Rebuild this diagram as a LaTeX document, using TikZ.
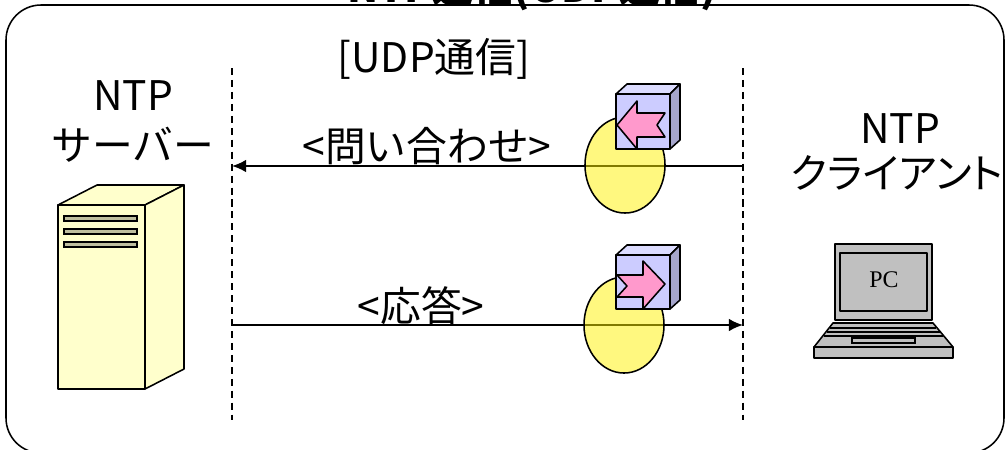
\documentclass[tikz,border=0pt]{standalone}
\usepackage{fontspec}
\setmainfont{Noto Sans CJK JP}
\newfontfamily\pcfont{Liberation Serif}
\usetikzlibrary{arrows.meta}

\definecolor{srvyellow}{HTML}{FFFFCC}
\definecolor{slotgray}{HTML}{BFBF9F}
\definecolor{boxfront}{HTML}{CCCCFF}
\definecolor{boxtop}{HTML}{DCDCFF}
\definecolor{boxside}{HTML}{A6A6CC}
\definecolor{pktpink}{HTML}{FF99CC}
\definecolor{pcgray}{HTML}{C0C0C0}

\tikzset{
  lbl/.style={anchor=base, inner sep=0pt, font=\fontsize{29}{34}\selectfont},
  outline/.style={line width=1.1pt, line join=round},
  lifeline/.style={line width=1pt, dash pattern=on 5pt off 3.5pt},
  msg/.style={line width=1.4pt, -{Latex[length=10pt,width=9pt]}},
}

\begin{document}
\begin{tikzpicture}[x=0.025cm, y=-0.025cm]

  \useasboundingbox (0,0) rectangle (1006,449);
  \clip (0,0) rectangle (1006,449);

  % Outer frame
  \draw[line width=1.1pt, rounded corners=0.875cm] (6,5) rectangle (1004,453);

  % Define points on the two lifelines
  \coordinate (srvTop) at (232,68);
  \coordinate (srvBot) at (232,420);
  \coordinate (cliTop) at (743,68);
  \coordinate (cliBot) at (743,420);
  \coordinate (qFrom) at (743,166);
  \coordinate (qTo) at (232,166);
  \coordinate (rFrom) at (232,325);
  \coordinate (rTo) at (743,325);

  % Draw the lifelines and messages
  \draw[lifeline] (srvTop) -- (srvBot);
  \draw[lifeline] (cliTop) -- (cliBot);
  \draw[msg] (qFrom) -- (qTo);
  \draw[msg] (rFrom) -- (rTo);

  % Labels
  \node[lbl] (title) at (532,2) {\bfseries NTP通信(UDP通信)};
  \node[lbl] (udp) at (434,72) {[UDP通信]};
  \node[lbl] (srvA) at (133,110) {NTP};
  \node[lbl] (srvB) at (133,160) {サーバー};
  \node[lbl] (cliA) at (900,143) {NTP};
  \node[lbl] (cliB) at (897,188) {\addfontfeature{RawFeature=+palt}クライアント};
  \node[lbl] (query) at (427,161) {<問い合わせ>};
  \node[lbl] (reply) at (421,321) {<応答>};

  % Server tower
  \filldraw[outline, fill=srvyellow] (58,205) -- (145,205) -- (145,389) -- (58,389) -- cycle;
  \filldraw[outline, fill=srvyellow] (58,205) -- (97,185) -- (184,185) -- (145,205) -- cycle;
  \filldraw[outline, fill=srvyellow] (145,205) -- (184,185) -- (184,369) -- (145,389) -- cycle;
  \foreach \y in {216,229,242}
    \filldraw[line width=0.9pt, fill=slotgray] (64,\y) rectangle (137,\y+5);

  % Packets (ellipse + box with arrow)
  \filldraw[outline, fill=yellow, fill opacity=0.5] (625,165) ellipse [x radius=1cm, y radius=1.2cm];
  \filldraw[outline, fill=yellow, fill opacity=0.5] (624,325) ellipse [x radius=1cm, y radius=1.2cm];

  \begin{scope}[shift={(616,94)}]
    \filldraw[outline, fill=boxfront] (0,0) rectangle (54,55);
    \filldraw[outline, fill=boxtop] (0,0) -- (11,-10) -- (64,-10) -- (54,0) -- cycle;
    \filldraw[outline, fill=boxside] (54,0) -- (64,-10) -- (64,46) -- (54,55) -- cycle;
    \filldraw[outline, fill=pktpink] (1,31) -- (21,7) -- (21,19) -- (49,19) -- (41,31)
      -- (49,43) -- (21,43) -- (21,55) -- cycle;
  \end{scope}

  \begin{scope}[shift={(616,255)}]
    \filldraw[outline, fill=boxfront] (0,0) rectangle (54,54);
    \filldraw[outline, fill=boxtop] (0,0) -- (11,-10) -- (64,-10) -- (54,0) -- cycle;
    \filldraw[outline, fill=boxside] (54,0) -- (64,-10) -- (64,45) -- (54,54) -- cycle;
    \filldraw[outline, fill=pktpink] (1,20) -- (27,20) -- (27,6) -- (49,29) -- (27,54)
      -- (27,42) -- (1,42) -- (11,31) -- cycle;
  \end{scope}

  % Laptop
  \filldraw[outline, fill=pcgray] (835,244) rectangle (932,320);
  \filldraw[outline, fill=pcgray] (840,253) rectangle (927,311);
  \node[anchor=base, inner sep=0pt, font=\pcfont\fontsize{17}{20}\selectfont] (pc) at (884,287) {PC};
  \filldraw[outline, fill=pcgray] (833,323) -- (933,323) -- (953,347) -- (814,347) -- cycle;
  \filldraw[outline, fill=pcgray] (814,347) rectangle (953,358);
  \draw[line width=1.6pt] (830,328) -- (936,328);
  \draw[line width=1.6pt] (827,332) -- (940,332);
  \draw[line width=1.6pt] (824,336) -- (943,336);
  \filldraw[line width=1pt, fill=pcgray] (852,338) rectangle (915,343);

\end{tikzpicture}
\end{document}
